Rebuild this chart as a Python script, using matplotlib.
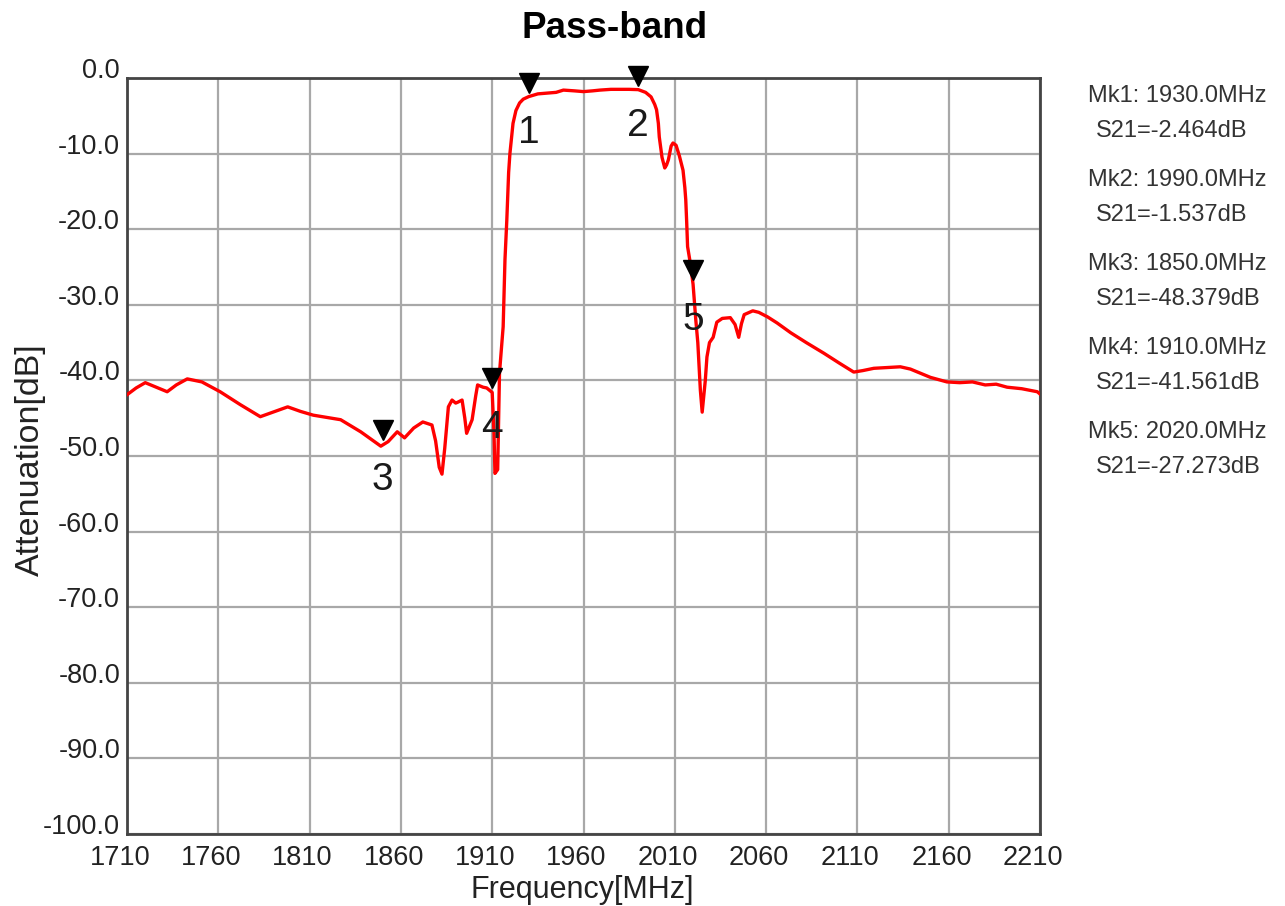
import matplotlib
matplotlib.use('Agg')
import matplotlib.pyplot as plt
from matplotlib.transforms import offset_copy, ScaledTranslation

plt.rcParams['font.family'] = ['Liberation Sans', 'DejaVu Sans']

# S21 trace
freq = [1710, 1715, 1720, 1726, 1732, 1737, 1743, 1751, 1761, 1772,
        1783, 1790, 1798, 1805, 1812, 1827, 1838, 1845, 1849, 1853,
        1858, 1862, 1867, 1872, 1877, 1879, 1881, 1882.5, 1884, 1886,
        1888, 1890, 1891, 1893.5, 1895, 1896, 1898, 1899, 1901, 1902,
        1905, 1907, 1910, 1911, 1911.5, 1913, 1913.5, 1914, 1915, 1916,
        1917, 1918, 1919, 1919.7, 1921.4, 1923, 1925, 1927, 1930, 1935,
        1940, 1945, 1949, 1955, 1960, 1965, 1969, 1975, 1980, 1985,
        1990, 1994, 1997, 1999, 2000, 2001, 2001.5, 2003, 2004.5, 2005.5,
        2006.5, 2008, 2009, 2010.7, 2012.5, 2014.5, 2015.5, 2016, 2016.5, 2017,
        2018.5, 2020, 2021.5, 2022.6, 2023.5, 2024, 2025, 2025.5, 2026.7, 2027.6,
        2029, 2031, 2033, 2036, 2040.4, 2043, 2045, 2046.5, 2048, 2052.7,
        2056, 2060.8, 2066, 2073.5, 2082, 2091.6, 2100, 2108, 2113, 2119,
        2126, 2133.5, 2139, 2144, 2150, 2159, 2166, 2173, 2180, 2186,
        2192, 2200, 2208.5, 2210]
s21 = [-41.9, -41.0, -40.3, -40.9, -41.5, -40.6, -39.8, -40.2, -41.5, -43.2,
       -44.8, -44.2, -43.5, -44.1, -44.6, -45.2, -46.8, -48.0, -48.7, -48.1,
       -46.8, -47.6, -46.3, -45.5, -45.9, -48.0, -51.5, -52.4, -49.0, -43.5,
       -42.6, -43.0, -42.9, -42.6, -45.0, -47.0, -45.8, -45.2, -42.0, -40.6,
       -40.9, -41.0, -41.6, -47.0, -52.3, -51.8, -45.0, -39.0, -36.0, -32.9,
       -24.0, -18.8, -12.5, -10.0, -6.0, -4.3, -3.3, -2.8, -2.46, -2.1,
       -2.0, -1.9, -1.6, -1.7, -1.8, -1.7, -1.6, -1.5, -1.5, -1.5,
       -1.54, -1.9, -2.5, -3.5, -4.2, -6.0, -7.8, -10.5, -11.9, -11.5,
       -10.8, -9.0, -8.6, -8.9, -10.3, -12.2, -14.5, -16.1, -19.0, -22.3,
       -24.5, -27.27, -32.0, -35.0, -39.0, -41.3, -44.2, -43.0, -40.0, -36.9,
       -35.0, -34.3, -32.3, -31.8, -31.7, -32.6, -34.3, -32.5, -31.3, -30.8,
       -31.0, -31.6, -32.4, -33.7, -35.0, -36.4, -37.7, -38.9, -38.7, -38.4,
       -38.3, -38.2, -38.5, -39.0, -39.6, -40.2, -40.3, -40.2, -40.6, -40.5,
       -40.9, -41.1, -41.5, -41.8]

mk_names = ['1', '2', '3', '4', '5']
mk_freq = [1930.0, 1990.0, 1850.0, 1910.0, 2020.0]
mk_val = [-2.464, -1.537, -48.379, -41.561, -27.273]

xticks = list(range(1710, 2211, 50))
yticks = list(range(-100, 1, 10))

fig = plt.figure(figsize=(12.85, 9.06), dpi=100)
ax = fig.add_axes([127/1285, 1-834/906, (1040-127)/1285, (834-78)/906])

ax.plot(freq, s21, color='#ff0000', lw=2.4, zorder=3)
ax.set_xlim(1710, 2210)
ax.set_ylim(-100, 0)
ax.set_xticks(xticks)
ax.set_yticks(yticks)
ax.set_yticklabels(['%.1f' % v for v in yticks])
ax.grid(color='#a8a8a8', lw=1.6)
ax.tick_params(length=0, labelsize=19.5, colors='#222222')
ax.tick_params(axis='x', pad=8)
ax.tick_params(axis='y', pad=5)
for lab in ax.get_yticklabels():
    lab.set_va('baseline')
# x labels sit a little left of their grid lines in the original
shift = ScaledTranslation(-7/100, 0, fig.dpi_scale_trans)
for lab in ax.get_xticklabels():
    lab.set_transform(lab.get_transform() + shift)
for sp in ax.spines.values():
    sp.set_color('#444444')
    sp.set_linewidth(2)

ax.set_xlabel('Frequency[MHz]', fontsize=22, color='#222222', va='center')
ax.xaxis.set_label_coords(0.499, -0.0735)
ax.set_ylabel('Attenuation[dB]', fontsize=24.5, color='#222222', va='center')
ax.yaxis.set_label_coords(-0.106, 0.495)

# markers: triangle above the point, number below
up = offset_copy(ax.transData, fig=fig, x=0, y=14, units='dots')
ax.plot(mk_freq, mk_val, 'v', color='black', ms=14, transform=up,
        clip_on=False, zorder=4)
for name, f, v in zip(mk_names, mk_freq, mk_val):
    ax.annotate(name, (f, v), xytext=(0, -36), textcoords='offset pixels',
                ha='center', va='center', fontsize=28, color='#1a1a1a', zorder=5)

fig.text(615/1285, 1-28/906, 'Pass-band', ha='center', va='center',
         fontsize=26.5, weight='bold')

# marker readout on the right
for i, (f, v) in enumerate(zip(mk_freq, mk_val)):
    y0 = 96 + i*84
    fig.text(1088/1285, 1-y0/906, 'Mk%d: %.1fMHz' % (i+1, f),
             ha='left', va='center', fontsize=17, color='#333333')
    fig.text(1096/1285, 1-(y0+35)/906, 'S21=%.3fdB' % v,
             ha='left', va='center', fontsize=17, color='#333333')

fig.savefig('out.png', dpi=100)
